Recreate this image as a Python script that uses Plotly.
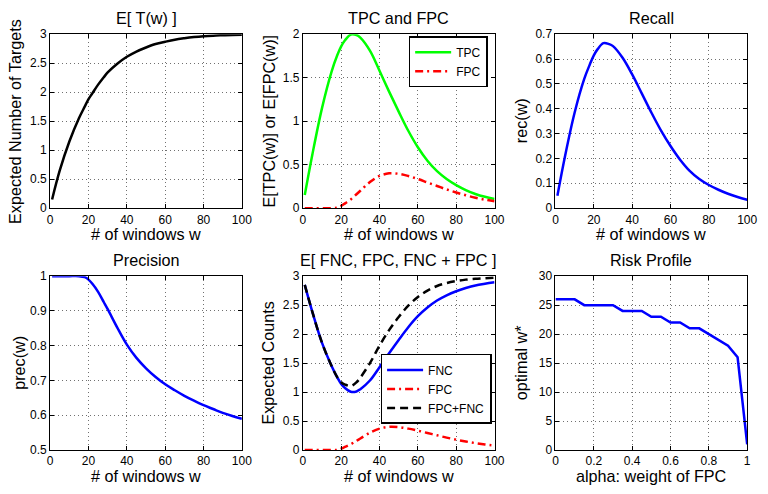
import plotly.graph_objects as go

# ---------------- data ----------------
w_pts = [1, 5, 10, 15, 18, 20, 22, 25, 28, 30, 35, 40, 45, 50, 55, 60, 65, 70, 75, 80, 85, 90, 95, 100]

exp_targets = [0.15, 0.65, 1.15, 1.55, 1.75, 1.88, 1.98, 2.13, 2.26, 2.34, 2.49, 2.61, 2.70, 2.77, 2.83, 2.87, 2.905, 2.93, 2.95, 2.965, 2.975, 2.982, 2.988, 2.99]

tpc = [0.15, 0.62, 1.15, 1.57, 1.76, 1.86, 1.93, 1.995, 1.99, 1.96, 1.81, 1.58, 1.34, 1.11, 0.89, 0.70, 0.545, 0.425, 0.335, 0.265, 0.208, 0.163, 0.13, 0.105]

fpc = [0.0, 0.0, 0.0, 0.0, 0.005, 0.025, 0.055, 0.10, 0.16, 0.20, 0.30, 0.37, 0.40, 0.395, 0.37, 0.335, 0.295, 0.255, 0.215, 0.18, 0.148, 0.12, 0.097, 0.08]

recall = [0.05, 0.21, 0.385, 0.52, 0.58, 0.615, 0.64, 0.664, 0.66, 0.652, 0.605, 0.538, 0.462, 0.385, 0.313, 0.25, 0.195, 0.15, 0.117, 0.093, 0.074, 0.058, 0.045, 0.034]

precision = [1.0, 1.0, 1.0, 1.0, 0.997, 0.99, 0.978, 0.955, 0.925, 0.905, 0.852, 0.803, 0.765, 0.735, 0.71, 0.689, 0.672, 0.656, 0.642, 0.629, 0.618, 0.607, 0.598, 0.59]

fnc = [2.85, 2.38, 1.85, 1.45, 1.25, 1.14, 1.07, 1.005, 1.01, 1.05, 1.20, 1.43, 1.67, 1.90, 2.12, 2.31, 2.46, 2.58, 2.67, 2.74, 2.795, 2.84, 2.87, 2.895]

fpc_fnc = [2.85, 2.38, 1.85, 1.45, 1.255, 1.17, 1.13, 1.105, 1.17, 1.25, 1.50, 1.80, 2.07, 2.295, 2.49, 2.64, 2.75, 2.83, 2.88, 2.915, 2.94, 2.955, 2.965, 2.975]

alpha = [0.0, 0.05, 0.1, 0.15, 0.2, 0.25, 0.3, 0.35, 0.4, 0.45, 0.5, 0.55, 0.6, 0.65, 0.7, 0.75, 0.8, 0.85, 0.9, 0.95, 1.0]
opt_w = [26, 26, 26, 25, 25, 25, 25, 24, 24, 24, 23, 23, 22, 22, 21, 21, 20, 19, 18, 16, 1]

titles = ["E[ T(w) ]", "TPC and FPC", "Recall", "Precision", "E[ FNC, FPC, FNC + FPC ]", "Risk Profile"]
xlabels = ["# of windows w"] * 5 + ["alpha: weight of FPC"]
ylabels = ["Expected Number of Targets", "E[TPC(w)] or E[FPC(w)]", "rec(w)", "prec(w)", "Expected Counts", "optimal w*"]

# ---------------- layout ----------------
W, H = 768, 494
FONT = "Liberation Sans, Arial, Helvetica, sans-serif"
LBL = 16.2
xpix = [(48, 243), (305, 500), (562, 757)]
ypix = [(28, 207), (277, 456)]

fig = go.Figure()

def sp(x, y, xa, ya, color, dash="solid", name=None, legend=None, shape="spline"):
    fig.add_trace(go.Scatter(
        x=x, y=y, xaxis=xa, yaxis=ya, mode="lines",
        line=dict(color=color, width=2.5, dash=dash, shape=shape, smoothing=1.0),
        name=name, showlegend=name is not None,
        legend=legend if legend else "legend"))

sp(w_pts, exp_targets, "x", "y", "#000000")
sp(w_pts, tpc, "x2", "y2", "#00ff00", name="TPC", legend="legend")
sp(w_pts, fpc, "x2", "y2", "#ff0000", dash="8px,4px,2px,4px", name="FPC", legend="legend")
sp(w_pts, recall, "x3", "y3", "#0000ff")
sp(w_pts, precision, "x4", "y4", "#0000ff")
sp(w_pts, fnc, "x5", "y5", "#0000ff", name="FNC", legend="legend2")
sp(w_pts, fpc, "x5", "y5", "#ff0000", dash="8px,4px,2px,4px", name="FPC", legend="legend2")
sp(w_pts, fpc_fnc, "x5", "y5", "#000000", dash="8px,5px", name="FPC+FNC", legend="legend2")
sp(alpha, opt_w, "x6", "y6", "#0000ff", shape="linear")

yranges = [(0, 3, 0.5), (0, 2, 0.5), (0, 0.7, 0.1), (0.5, 1, 0.1), (0, 3, 0.5), (0, 30, 5)]

layout = dict(
    width=W, height=H, margin=dict(l=0, r=0, t=0, b=0),
    paper_bgcolor="white", plot_bgcolor="white",
    font=dict(family=FONT, color="black", size=12),
    annotations=[],
)

ylab_x = [12, 271, 527, 16, 270, 527]

for i in range(6):
    r, c = divmod(i, 3)
    x0, x1 = xpix[c]
    yt, yb = ypix[r]
    sfx = "" if i == 0 else str(i + 1)
    if i == 5:
        xr = (0, 1)
        tickvals = [0, 0.2, 0.4, 0.6, 0.8, 1]
        ticktext = ["0", "0.2", "0.4", "0.6", "0.8", "1"]
    else:
        xr = (0, 100)
        tickvals = [0, 20, 40, 60, 80, 100]
        ticktext = [str(v) for v in tickvals]
    axcommon = dict(showline=True, linecolor="black", linewidth=1, mirror="ticks",
                    ticks="inside", ticklen=4, tickcolor="black",
                    showgrid=True, gridcolor="#707070", griddash="1px,3px", gridwidth=1,
                    zeroline=False, tickfont=dict(size=12, family=FONT))
    layout["xaxis" + sfx] = dict(domain=[x0 / W, x1 / W], range=list(xr), anchor="y" + sfx,
                                 tickvals=tickvals, ticktext=ticktext, **axcommon)
    y0, y1, ydt = yranges[i]
    n = int(round((y1 - y0) / ydt))
    yvals = [round(y0 + k * ydt, 3) for k in range(n + 1)]
    ytext = [("%g" % v) for v in yvals]
    layout["yaxis" + sfx] = dict(domain=[1 - yb / H, 1 - yt / H], range=[y0, y1], anchor="x" + sfx,
                                 tickvals=yvals, ticktext=ytext, **axcommon)
    layout["annotations"].append(dict(text=titles[i], x=(x0 + x1) / 2 / W, y=1 - (yt - 17) / H,
                                      xref="paper", yref="paper", showarrow=False,
                                      xanchor="center", yanchor="middle", font=dict(size=LBL, family=FONT)))
    layout["annotations"].append(dict(text=xlabels[i], x=(x0 + x1) / 2 / W, y=1 - (yb + 26.5) / H,
                                      xref="paper", yref="paper", showarrow=False,
                                      xanchor="center", yanchor="middle", font=dict(size=LBL, family=FONT)))
    layout["annotations"].append(dict(text=ylabels[i], x=ylab_x[i] / W, y=1 - (yt + yb) / 2 / H,
                                      xref="paper", yref="paper", showarrow=False, textangle=-90,
                                      xanchor="center", yanchor="middle", font=dict(size=LBL, family=FONT)))

layout["legend"] = dict(x=493 / W, y=1 - 30 / H, xanchor="right", yanchor="top", xref="paper", yref="paper",
                        bordercolor="black", borderwidth=1.5, bgcolor="white",
                        font=dict(size=12, family=FONT), tracegroupgap=0, itemwidth=36)
layout["legend2"] = dict(x=497 / W, y=1 - 357 / H, xanchor="right", yanchor="top", xref="paper", yref="paper",
                         bordercolor="black", borderwidth=1.5, bgcolor="white",
                         font=dict(size=12, family=FONT), tracegroupgap=0, itemwidth=36)

fig.update_layout(**layout)
fig.write_html("out.html")
